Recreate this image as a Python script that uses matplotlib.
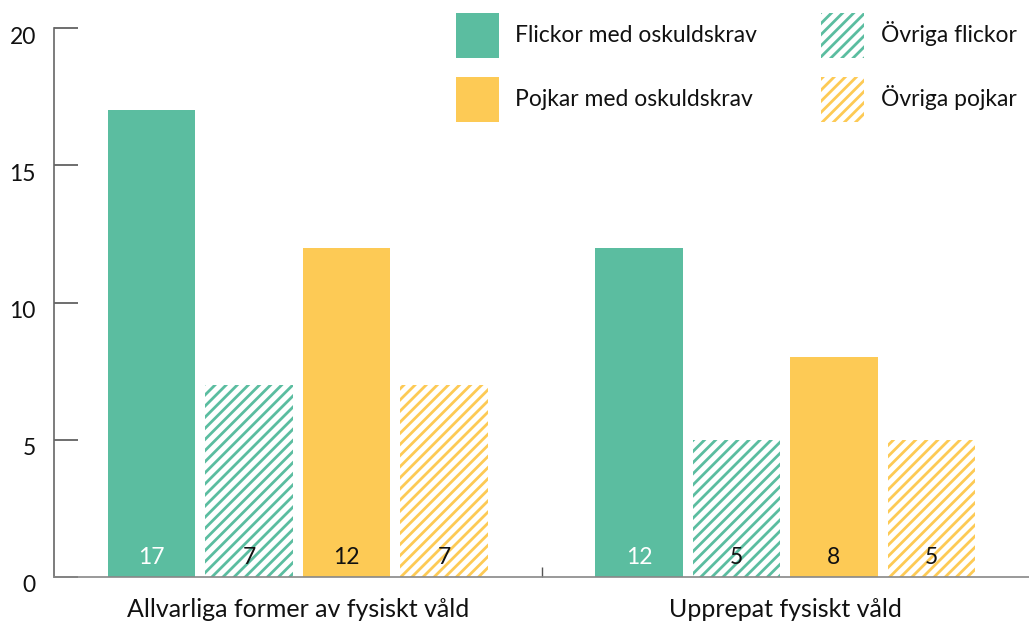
import numpy as np
import matplotlib
matplotlib.use("Agg")
import matplotlib.pyplot as plt
import matplotlib.transforms as mtransforms
from matplotlib.patches import Patch

plt.rcParams['font.family'] = ['Lato', 'DejaVu Sans']
plt.rcParams['hatch.linewidth'] = 2.0

# data
categories = ['Allvarliga former av fysiskt våld', 'Upprepat fysiskt våld']
series = ['Flickor med oskuldskrav', 'Övriga flickor', 'Pojkar med oskuldskrav', 'Övriga pojkar']
flickor_krav = [17, 12]
ovriga_flickor = [7, 5]
pojkar_krav = [12, 8]
ovriga_pojkar = [7, 5]
yticks = [0, 5, 10, 15, 20]

green = '#5bbda0'
yellow = '#fdca55'
values = [flickor_krav, ovriga_flickor, pojkar_krav, ovriga_pojkar]
colors = [green, green, yellow, yellow]
hatched = [False, True, False, True]
label_colors = ['white', '#111111', '#111111', '#111111']

fig = plt.figure(figsize=(10.29, 6.25), dpi=100)
ax = fig.add_axes([54 / 1029, 1 - 577 / 625, 1 - 54 / 1029, (577 - 28) / 625])

x = np.arange(len(categories))
width = 0.18
offsets = [-0.3, -0.1, 0.1, 0.3]

for vals, col, h, off, lc in zip(values, colors, hatched, offsets, label_colors):
    if h:
        bars = ax.bar(x + off, vals, width, facecolor='white', edgecolor=col,
                      hatch='///', linewidth=0)
    else:
        bars = ax.bar(x + off, vals, width, color=col, linewidth=0)
    for b, v in zip(bars, vals):
        ax.text(b.get_x() + b.get_width() / 2, 0.72, str(v), ha='center', va='center',
                fontsize=16.5, color=lc)

ax.set_xlim(-0.5, 1.5)
ax.set_ylim(0, 20)

for s in ['top', 'right']:
    ax.spines[s].set_visible(False)
ax.spines['left'].set_color('#666666')
ax.spines['bottom'].set_color('#888888')
ax.spines['left'].set_linewidth(1.2)
ax.spines['bottom'].set_linewidth(1.2)

ax.set_yticks(yticks)
ax.set_yticklabels([str(t) for t in yticks], fontsize=16.5, color='#111111')
ax.tick_params(axis='y', direction='in', length=17, width=1.2, color='#555555', pad=13)
offset = mtransforms.ScaledTranslation(0, -7 / 100, fig.dpi_scale_trans)
for lab in ax.get_yticklabels():
    lab.set_transform(lab.get_transform() + offset)

ax.set_xticks(x)
ax.set_xticklabels(categories, fontsize=18, color='#111111')
ax.tick_params(axis='x', which='major', length=0, pad=15)
ax.set_xticks([0.5], minor=True)
ax.tick_params(axis='x', which='minor', direction='in', length=7, width=1, color='#555555')

handles = [Patch(facecolor=green, edgecolor=green, linewidth=0),
           Patch(facecolor=yellow, edgecolor=yellow, linewidth=0),
           Patch(facecolor='white', edgecolor=green, hatch='///', linewidth=0),
           Patch(facecolor='white', edgecolor=yellow, hatch='///', linewidth=0)]
labels = [series[0], series[2], series[1], series[3]]
leg = fig.legend(handles, labels, ncol=2, loc='upper right', bbox_to_anchor=(1.0, 1.0),
                 frameon=False, fontsize=16.5, handlelength=1.88, handleheight=2.65,
                 handletextpad=0.7, labelspacing=0.83, columnspacing=2.8,
                 borderaxespad=0.15)
for t in leg.get_texts():
    t.set_color('#111111')

fig.savefig('out.png', dpi=100)
